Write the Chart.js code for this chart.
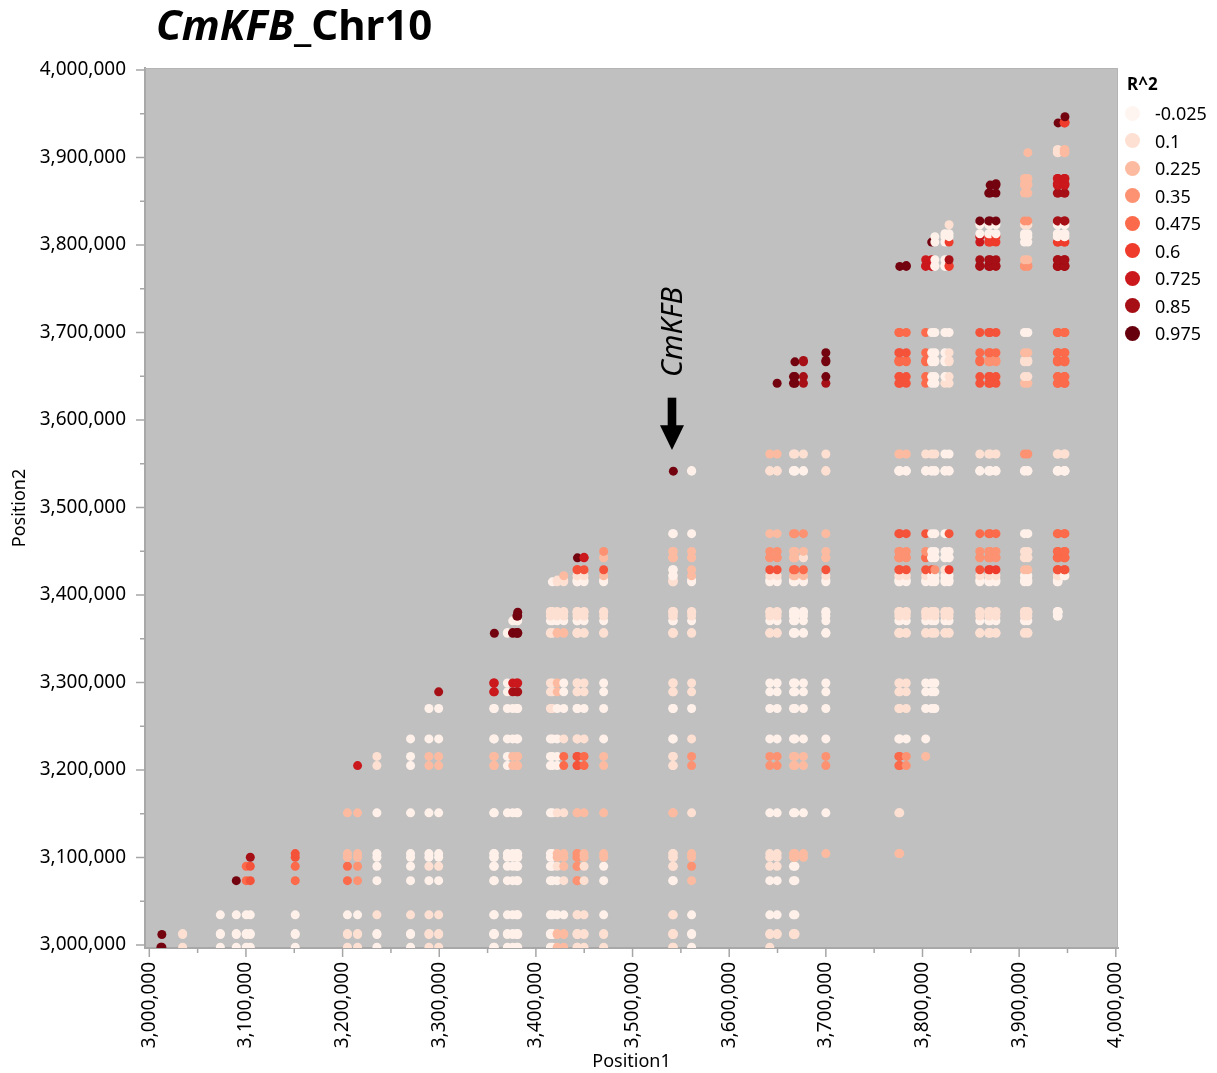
<!DOCTYPE html>
<html><head><meta charset="utf-8">
<script src="https://cdn.jsdelivr.net/npm/chart.js@4.4.1/dist/chart.umd.min.js"></script>
<style>
html,body{margin:0;padding:0;background:#fff;}
#wrap{position:relative;width:1217px;height:1073px;overflow:hidden;}
#c{position:absolute;left:0;top:0;}
#title{position:absolute;left:156px;top:3px;font:bold 42px/42px "Noto Sans",sans-serif;white-space:nowrap;color:#000;}
#legend{position:absolute;left:0;top:0;font-family:"Noto Sans",sans-serif;color:#000;}
.lt{position:absolute;left:1127px;top:72px;font-weight:bold;font-size:17px;line-height:24px;}
.li{position:absolute;left:1124px;height:22px;line-height:22px;font-size:18px;white-space:nowrap;}
.li span.dot{position:absolute;left:1px;top:3.5px;width:15px;height:15px;border-radius:50%;}
.li span.tx{position:absolute;left:31px;top:0;}
</style></head>
<body><div id="wrap"><canvas id="c" width="1217" height="1073"></canvas>
<div id="title"><i>CmKFB</i>_Chr10</div>
<div id="legend"></div></div>
<script>
// ---------------- data ----------------
// SNP positions (bp), grouped where markers sit practically on top of each other
const snpGroups = [
 [2997500],[3012000,3013000],[3034500],[3073500],[3090000],[3100300],[3104500],[3151000],
 [3205000],[3215500],[3235500],[3270300],[3289300],[3299400],[3356300,3357000],[3370500],
 [3376000,3380300,3381200],[3415000,3417000],[3422000],[3428800],[3442500,3443000],[3449800],
 [3470100],[3541500,3542200],[3561100],[3642000],[3649600],[3666500,3668000],[3676800],[3700000],
 [3775500,3776500],[3783200],[3803300],[3809500],[3812800],[3823200],[3827500],[3859300],
 [3868500,3870000],[3876000],[3905500,3909000],[3939500,3940300],[3946600,3947400]
];
// For the SNPs of column group c (Position1): one R^2 level per earlier group (Position2),
// last char = level between SNPs inside group c. '.' = pair not shown, '-' = none.
const r2Codes = [
 "-",
 "99",
 "11-",
 "000-",
 "0009-",
 "00044-",
 "000558-",
 "0004455-",
 "11044222-",
 "110332227-",
 "0010000011-",
 "00100000000-",
 "111010002200-",
 "1110100022008-",
 "000000002200779",
 "000000000000000-",
 "00000000220087909",
 "000000000001111010",
 "220012210000222011-",
 "2201222144100020112-",
 "111333325510111010159",
 "111112224410111010157-",
 "1100022222000010102523-",
 "111011121100111011002209",
 "000232213310111010222200-",
 "1100111033000010101533212-",
 ".1001110330000101015332129-",
 ".100022022000000002422301999",
 ".....22022000000002412301888-",
 "......20330000000015222118999-",
 "......2144011110101533502554549",
 "........33011110101533502554549-",
 ".........20000101015435014444477-",
 "...........0001010050000100000779-",
 "...........00010100300001000000000-",
 "..............101001000001000000000-",
 "..............1010060050011110686001-",
 "..............10101533401554458877009-",
 "..............1010163340155345886600999",
 "..............1010163340155345886600999-",
 "..............101002110032112032000132222",
 "................00154440144444886000887719",
 "..................0544401444448860008877269"
];
// R^2 value read for each level digit 0..9
const levelR2 = [0.0, 0.1, 0.225, 0.35, 0.475, 0.54, 0.6, 0.725, 0.85, 0.95];
// colour scale (legend)
const legendValues = [-0.025, 0.1, 0.225, 0.35, 0.475, 0.6, 0.725, 0.85, 0.975];
const legendLabels = ["-0.025","0.1","0.225","0.35","0.475","0.6","0.725","0.85","0.975"];
const legendColors = ["#fff5f0","#fee0d2","#fcbba1","#fc9272","#fb6a4a","#ef3b2c","#cb181d","#a50f15","#67000d"];
// axis ticks
const majorTicks = [3000000,3100000,3200000,3300000,3400000,3500000,3600000,3700000,3800000,3900000,4000000];
const minorTicks = [3050000,3150000,3250000,3350000,3450000,3550000,3650000,3750000,3850000,3950000];
// annotation
const geneName = "CmKFB";
const genePos = 3540800;

// ---------------- build points ----------------
const points = [];
for (let c = 0; c < snpGroups.length; c++) {
  const code = r2Codes[c] || "";
  const cols = snpGroups[c];
  for (let r = 0; r < c; r++) {
    const ch = code[r];
    if (ch === undefined || ch === '.' || ch === '-') continue;
    const v = levelR2[+ch];
    for (const xp of cols) for (const yp of snpGroups[r]) points.push({x: xp, y: yp, r2: v});
  }
  const w = code[c];
  if (w !== undefined && w !== '.' && w !== '-' && cols.length > 1) {
    for (let a = 0; a < cols.length; a++) for (let b = a + 1; b < cols.length; b++)
      points.push({x: cols[b], y: cols[a], r2: levelR2[+w]});
  }
}

function hex2rgb(h){return [parseInt(h.substr(1,2),16),parseInt(h.substr(3,2),16),parseInt(h.substr(5,2),16)];}
const stopsRGB = legendColors.map(hex2rgb);
function colorFor(v){
  if (v <= legendValues[0]) return legendColors[0];
  const n = legendValues.length;
  if (v >= legendValues[n-1]) return legendColors[n-1];
  for (let i = 0; i < n-1; i++) {
    if (v <= legendValues[i+1]) {
      const t = (v - legendValues[i]) / (legendValues[i+1] - legendValues[i]);
      const a = stopsRGB[i], b = stopsRGB[i+1];
      return 'rgb(' + a.map((k,j)=>Math.round(k + (b[j]-k)*t)).join(',') + ')';
    }
  }
  return legendColors[n-1];
}

// ---------------- legend (HTML) ----------------
const lg = document.getElementById('legend');
const lt = document.createElement('div'); lt.className='lt'; lt.textContent='R^2'; lg.appendChild(lt);
legendLabels.forEach((lab,k)=>{
  const d = document.createElement('div'); d.className='li';
  d.style.top = (113 + k*27.5 - 11) + 'px';
  const dot = document.createElement('span'); dot.className='dot'; dot.style.background = legendColors[k];
  const tx = document.createElement('span'); tx.className='tx'; tx.textContent = lab;
  d.appendChild(dot); d.appendChild(tx); lg.appendChild(d);
});

// ---------------- plugins ----------------
const bgPlugin = {
  id: 'bg',
  beforeDraw(chart){
    const {ctx, chartArea:a} = chart;
    ctx.save(); ctx.fillStyle = '#c0c0c0';
    ctx.fillRect(a.left, a.top, a.right-a.left, a.bottom-a.top); ctx.restore();
  }
};
const decoPlugin = {
  id: 'deco',
  afterDraw(chart){
    const {ctx, chartArea:a, scales:{x, y}} = chart;
    ctx.save();
    ctx.strokeStyle = '#b4b4b4'; ctx.lineWidth = 1;
    ctx.beginPath(); ctx.moveTo(a.left, a.top+0.5); ctx.lineTo(a.right-0.5, a.top+0.5); ctx.lineTo(a.right-0.5, a.bottom); ctx.stroke();
    ctx.strokeStyle = '#a6a6a6'; ctx.lineWidth = 1.5;
    const draw = (vals, len) => {
      for (const v of vals) {
        const px = x.getPixelForValue(v);
        ctx.beginPath(); ctx.moveTo(px, a.bottom); ctx.lineTo(px, a.bottom + len); ctx.stroke();
        const py = y.getPixelForValue(v);
        ctx.beginPath(); ctx.moveTo(a.left, py); ctx.lineTo(a.left - len, py); ctx.stroke();
      }
    };
    draw(majorTicks, 9); draw(minorTicks, 5);
    const gx = x.getPixelForValue(genePos);
    const tipY = y.getPixelForValue(3565700);
    const headY = y.getPixelForValue(3594000);
    const topY = y.getPixelForValue(3625500);
    ctx.fillStyle = '#000';
    ctx.fillRect(gx - 4.3, topY, 8.6, headY - topY + 1);
    ctx.beginPath(); ctx.moveTo(gx - 12, headY); ctx.lineTo(gx + 12, headY); ctx.lineTo(gx, tipY); ctx.closePath(); ctx.fill();
    const ty = y.getPixelForValue(3700600);
    ctx.translate(gx + 10, ty); ctx.rotate(-Math.PI/2);
    ctx.font = 'italic 29px "Noto Sans"'; ctx.textAlign = 'center'; ctx.textBaseline = 'alphabetic';
    ctx.fillText(geneName, 0, 0);
    ctx.restore();
  }
};

const fmt = v => Math.round(v).toLocaleString('en-US');

new Chart(document.getElementById('c'), {
  type: 'scatter',
  data: { datasets: [{
    data: points,
    pointRadius: 4.5,
    pointHoverRadius: 4.5,
    pointBorderWidth: 0,
    backgroundColor: ctx => colorFor(ctx.raw ? ctx.raw.r2 : 0),
    borderColor: 'rgba(0,0,0,0)'
  }]},
  options: {
    responsive: false, animation: false, events: [],
    layout: { padding: { left: 0, top: 68, right: 99, bottom: 0 } },
    plugins: { legend: { display: false }, tooltip: { enabled: false } },
    scales: {
      x: {
        type: 'linear', min: 2995551, max: 4002276,
        afterBuildTicks: s => { s.ticks = majorTicks.map(v => ({value: v})); },
        afterFit: s => { s.height = 125; },
        ticks: { callback: v => fmt(v), minRotation: 90, maxRotation: 90, padding: 5, color: '#000',
                 font: { family: 'Noto Sans', size: 19 } },
        grid: { display: true, drawOnChartArea: false, drawTicks: true, tickLength: 9, color: 'rgba(0,0,0,0)' },
        border: { display: true, color: '#a8a8a8', width: 2 },
        title: { display: true, text: 'Position1', color: '#000', font: { family: 'Noto Sans', size: 18 }, padding: { top: 0, bottom: 0 } }
      },
      y: {
        type: 'linear', min: 2996571, max: 4002286,
        afterBuildTicks: s => { s.ticks = majorTicks.map(v => ({value: v})); },
        afterFit: s => { s.width = 145; },
        ticks: { callback: v => fmt(v), padding: 10, color: '#000', font: { family: 'Noto Sans', size: 19 } },
        grid: { display: true, drawOnChartArea: false, drawTicks: true, tickLength: 9, color: 'rgba(0,0,0,0)' },
        border: { display: true, color: '#a8a8a8', width: 2 },
        title: { display: true, text: 'Position2', color: '#000', font: { family: 'Noto Sans', size: 18 }, padding: { top: 9, bottom: 0 } }
      }
    }
  },
  plugins: [bgPlugin, decoPlugin]
});
</script>
</body></html>
